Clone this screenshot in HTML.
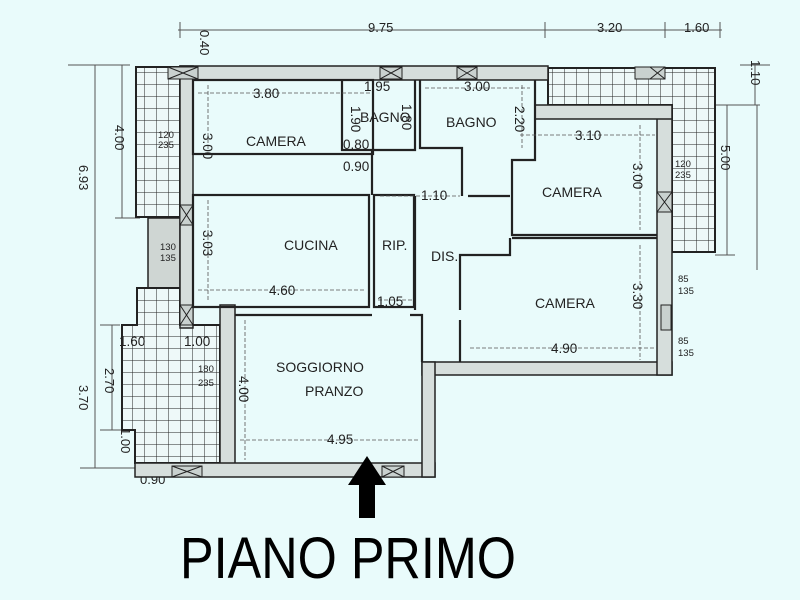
<!DOCTYPE html>
<html><head><meta charset="utf-8"><style>
html,body{margin:0;padding:0;background:#e9fbfb;}
svg{display:block;font-family:"Liberation Sans",sans-serif;}
</style></head><body>
<svg width="800" height="600" viewBox="0 0 800 600" xmlns="http://www.w3.org/2000/svg">
<defs>
<pattern id="g" width="12" height="12" patternUnits="userSpaceOnUse">
<rect width="12" height="12" fill="#eef9f9"/>
<path d="M0 0H12M0 0V12" stroke="#222" stroke-width="1"/>
</pattern>
</defs>
<rect width="800" height="600" fill="#e9fbfb"/>

<g stroke="#555" stroke-width="1" fill="none">
<line x1="178" y1="30" x2="722" y2="30"/>
<line x1="180" y1="22" x2="180" y2="38"/><line x1="545" y1="22" x2="545" y2="38"/><line x1="665" y1="22" x2="665" y2="38"/><line x1="720" y1="22" x2="720" y2="38"/>
<line x1="68" y1="65" x2="130" y2="65"/><line x1="95" y1="65" x2="95" y2="468"/><line x1="80" y1="468" x2="135" y2="468"/>
<line x1="122" y1="65" x2="122" y2="218"/><line x1="115" y1="218" x2="140" y2="218"/>
<line x1="112" y1="325" x2="112" y2="430"/><line x1="100" y1="325" x2="120" y2="325"/><line x1="100" y1="430" x2="130" y2="430"/>
<line x1="740" y1="65" x2="770" y2="65"/><line x1="755" y1="65" x2="755" y2="105"/><line x1="715" y1="105" x2="760" y2="105"/>
<line x1="727" y1="105" x2="727" y2="255"/><line x1="715" y1="255" x2="735" y2="255"/>
<line x1="757" y1="105" x2="757" y2="270"/>
</g>
<g font-size="13" fill="#222">
<text x="368" y="32">9.75</text><text x="597" y="32">3.20</text><text x="684" y="32">1.60</text>
<text transform="translate(200,30) rotate(90)">0.40</text>
<text transform="translate(79,165) rotate(90)">6.93</text>
<text transform="translate(115,125) rotate(90)">4.00</text>
<text transform="translate(79,385) rotate(90)">3.70</text>
<text transform="translate(105,368) rotate(90)">2.70</text>
<text transform="translate(121,428) rotate(90)">1.00</text>
<text x="140" y="484">0.90</text>
<text transform="translate(751,60) rotate(90)">1.10</text>
<text transform="translate(721,145) rotate(90)">5.00</text>
</g>

<rect x="136" y="67" width="44" height="150" fill="url(#g)" stroke="#222" stroke-width="2"/>
<rect x="148" y="218" width="32" height="70" fill="#cfd6d3" stroke="#222" stroke-width="1.5"/>
<path d="M137 288H180V325H220V463H135V430H122V325H137Z" fill="url(#g)" stroke="#222" stroke-width="2"/>
<path d="M548 68H715V252H672V105H548Z" fill="url(#g)" stroke="#222" stroke-width="2"/>

<g fill="#d6dedc" stroke="#222" stroke-width="1.5">
<rect x="180" y="66" width="368" height="14"/>
<rect x="180" y="66" width="13" height="262"/>
<rect x="220" y="305" width="15" height="170"/>
<rect x="135" y="463" width="300" height="14"/>
<rect x="422" y="362" width="250" height="13"/>
<rect x="422" y="362" width="13" height="115"/>
<rect x="657" y="105" width="15" height="270"/>
<rect x="535" y="105" width="137" height="14"/>
</g>
<g fill="#c9d1cf" stroke="#222" stroke-width="1">
<rect x="168" y="67" width="30" height="12"/><path d="M168 67L198 79M198 67L168 79"/>
<rect x="380" y="67" width="22" height="12"/><path d="M380 67L402 79M402 67L380 79"/>
<rect x="457" y="67" width="20" height="12"/><path d="M457 67L477 79M477 67L457 79"/>
<rect x="635" y="67" width="30" height="12"/><path d="M650 67L665 79M665 67L650 79"/>
<rect x="180" y="205" width="13" height="20"/><path d="M180 205L193 225M193 205L180 225"/>
<rect x="180" y="305" width="13" height="20"/><path d="M180 305L193 325M193 305L180 325"/>
<rect x="657" y="192" width="15" height="20"/><path d="M657 192L672 212M672 192L657 212"/>
<rect x="172" y="466" width="30" height="11"/><path d="M172 466L202 477M202 466L172 477"/>
<rect x="382" y="466" width="22" height="11"/><path d="M382 466L404 477M404 466L382 477"/>
<rect x="661" y="305" width="10" height="25"/>
</g>

<g stroke="#222" stroke-width="2.2" fill="none">
<rect x="193" y="80" width="180" height="74"/>
<rect x="193" y="195" width="176" height="112"/>
<rect x="374" y="195" width="40" height="112"/>
<path d="M342 80V150H415V80"/><path d="M420 80V148H462V196"/>
<path d="M535 80V160H512V235H657"/><path d="M512 238H657"/>
<path d="M510 238V255H460V310"/><path d="M460 320V362"/>
<path d="M235 315H372M410 315H422V362"/>
<path d="M415 196V310"/>
<path d="M372 150V195M468 196H510"/>
</g>

<g stroke="#555" stroke-width="0.8" stroke-dasharray="4 2" fill="none">
<line x1="198" y1="93" x2="370" y2="93"/><line x1="208" y1="85" x2="208" y2="150"/>
<line x1="198" y1="290" x2="366" y2="290"/><line x1="208" y1="200" x2="208" y2="300"/>
<line x1="240" y1="440" x2="420" y2="440"/><line x1="245" y1="320" x2="245" y2="460"/>
<line x1="470" y1="348" x2="655" y2="348"/><line x1="640" y1="245" x2="640" y2="360"/>
<line x1="520" y1="135" x2="655" y2="135"/><line x1="640" y1="125" x2="640" y2="230"/>
<line x1="425" y1="88" x2="530" y2="88"/><line x1="522" y1="85" x2="522" y2="148"/>
<line x1="378" y1="300" x2="412" y2="300"/><line x1="380" y1="196" x2="460" y2="196"/>
</g>
<g font-size="13.5" fill="#222">
<text x="253" y="98">3.80</text><text x="364" y="91">1.95</text><text x="464" y="91">3.00</text><text x="575" y="140">3.10</text>
<text transform="translate(203,133) rotate(90)">3.00</text>
<text transform="translate(402,104) rotate(90)">1.80</text>
<text transform="translate(351,106) rotate(90)">1.90</text>
<text transform="translate(515,106) rotate(90)">2.20</text>
<text transform="translate(633,163) rotate(90)">3.00</text>
<text transform="translate(203,230) rotate(90)">3.03</text>
<text transform="translate(633,283) rotate(90)">3.30</text>
<text transform="translate(239,376) rotate(90)">4.00</text>
<text x="343" y="149">0.80</text><text x="343" y="171">0.90</text><text x="421" y="200">1.10</text>
<text x="269" y="295">4.60</text><text x="377" y="306">1.05</text><text x="327" y="444">4.95</text><text x="551" y="353">4.90</text>
<text x="119" y="346">1.60</text><text x="184" y="346">1.00</text>
</g>
<g font-size="9.5" fill="#222">
<text x="158" y="138">120</text><text x="158" y="148">235</text>
<text x="160" y="250">130</text><text x="160" y="261">135</text>
<text x="198" y="372">180</text><text x="198" y="386">235</text>
<text x="675" y="167">120</text><text x="675" y="178">235</text>
<text x="678" y="282">85</text><text x="678" y="294">135</text>
<text x="678" y="344">85</text><text x="678" y="356">135</text>
</g>
<g font-size="14" fill="#222">
<text x="246" y="146">CAMERA</text><text x="360" y="122">BAGNO</text><text x="446" y="127">BAGNO</text>
<text x="542" y="197">CAMERA</text><text x="535" y="308">CAMERA</text>
<text x="284" y="250">CUCINA</text><text x="382" y="250">RIP.</text><text x="431" y="261">DIS.</text>
<text x="276" y="372">SOGGIORNO</text><text x="305" y="396">PRANZO</text>
</g>

<path d="M367 456L386 485H375V518H359V485H348Z" fill="#000"/>
<text x="180" y="578" font-size="58" fill="#000" textLength="336" lengthAdjust="spacingAndGlyphs">PIANO PRIMO</text>
</svg>
</body></html>
